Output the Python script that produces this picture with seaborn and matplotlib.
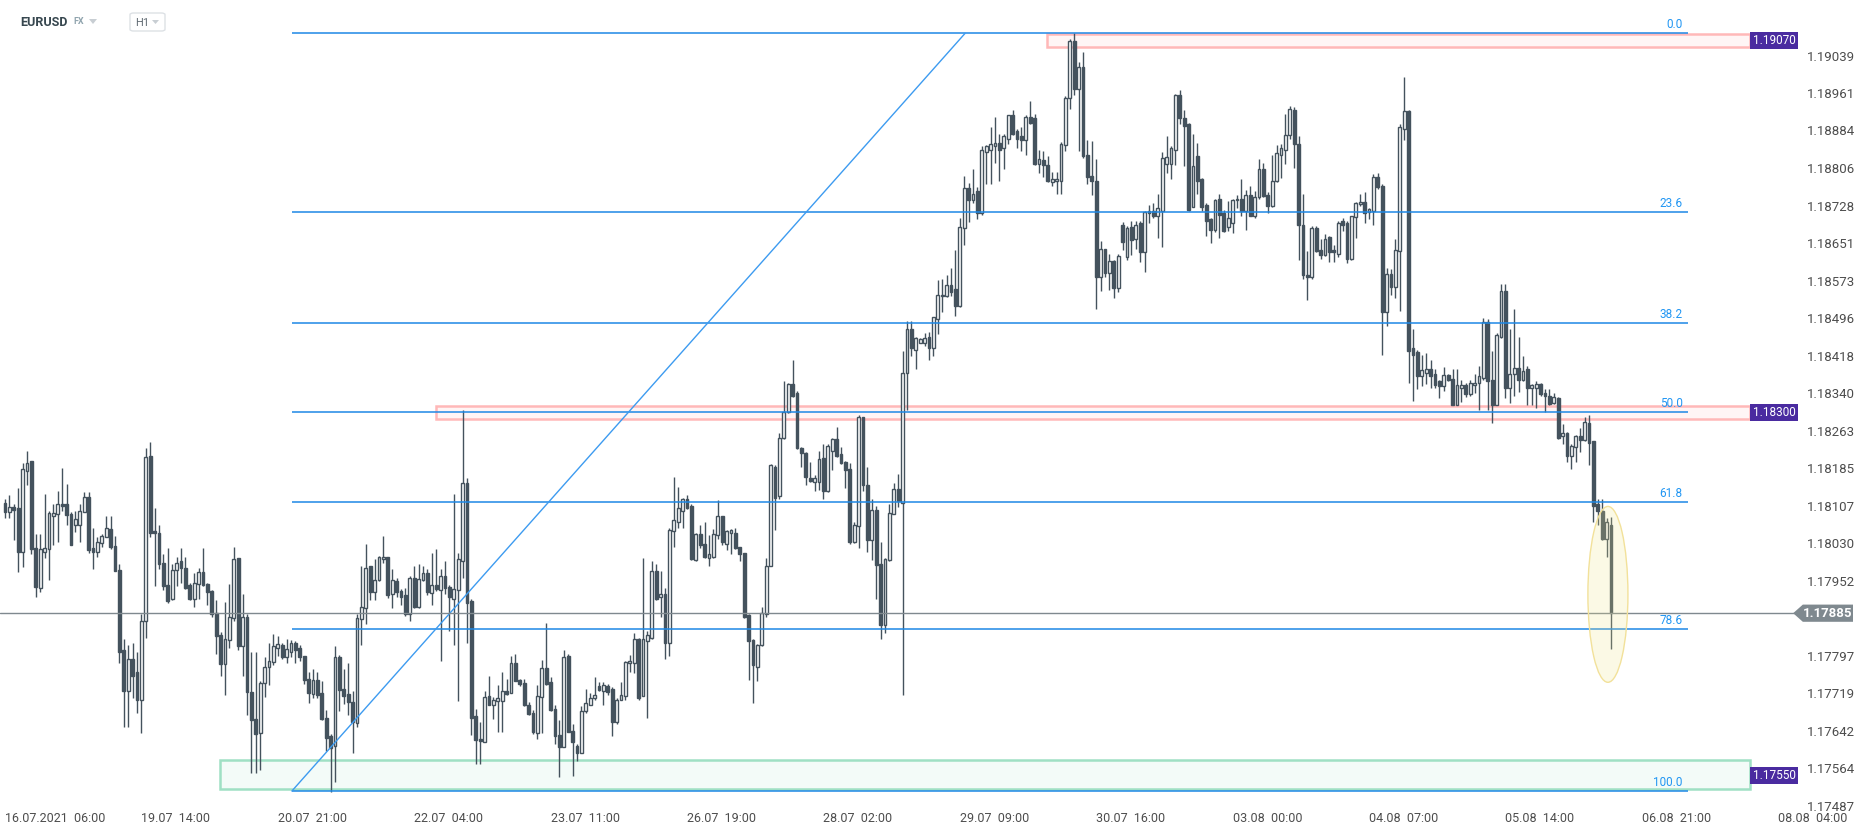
import numpy as np
import matplotlib.pyplot as plt
import seaborn as sns
from matplotlib.patches import Rectangle, Ellipse, Polygon, FancyBboxPatch

# EURUSD H1 candles (16.07.2021 06:00 -> 06.08.2021)
opens = [
    1.18114, 1.18095, 1.18104, 1.18102, 1.18012, 1.18180, 1.18199, 1.18019, 1.17938, 1.18012,
    1.18017, 1.18087, 1.18090, 1.18112, 1.18112, 1.18091, 1.18067, 1.18067, 1.18095, 1.18125,
    1.18019, 1.18012, 1.18030, 1.18042, 1.18059, 1.18025, 1.17975, 1.17809, 1.17724, 1.17791,
    1.17764, 1.17706, 1.17868, 1.18211, 1.18055, 1.18052, 1.17989, 1.17943, 1.17915, 1.17975,
    1.17992, 1.17979, 1.17943, 1.17915, 1.17945, 1.17971, 1.17945, 1.17931, 1.17885, 1.17839,
    1.17779, 1.17829, 1.17875, 1.17999, 1.17817, 1.17878, 1.17721, 1.17666, 1.17638, 1.17741,
    1.17774, 1.17784, 1.17814, 1.17819, 1.17794, 1.17804, 1.17824, 1.17812, 1.17797, 1.17749,
    1.17717, 1.17746, 1.17719, 1.17669, 1.17630, 1.17610, 1.17794, 1.17729, 1.17717, 1.17702,
    1.17657, 1.17873, 1.17895, 1.17982, 1.17928, 1.17953, 1.17997, 1.18002, 1.17925, 1.17951,
    1.17931, 1.17923, 1.17883, 1.17958, 1.17898, 1.17953, 1.17969, 1.17926, 1.17943, 1.17933,
    1.17963, 1.17940, 1.17915, 1.17933, 1.17992, 1.18155, 1.17911, 1.17672, 1.17625, 1.17618,
    1.17714, 1.17696, 1.17704, 1.17704, 1.17724, 1.17719, 1.17781, 1.17746, 1.17741, 1.17696,
    1.17679, 1.17638, 1.17712, 1.17772, 1.17742, 1.17686, 1.17632, 1.17608, 1.17797, 1.17642,
    1.17610, 1.17595, 1.17682, 1.17696, 1.17709, 1.17734, 1.17724, 1.17734, 1.17729, 1.17659,
    1.17706, 1.17714, 1.17781, 1.17781, 1.17831, 1.17714, 1.17827, 1.17834, 1.17972, 1.17918,
    1.17925, 1.17824, 1.18055, 1.18074, 1.18097, 1.18122, 1.18107, 1.17995, 1.18049, 1.18029,
    1.17999, 1.18002, 1.18047, 1.18087, 1.18029, 1.18052, 1.18052, 1.18021, 1.18009, 1.17881,
    1.17829, 1.17774, 1.17819, 1.17883, 1.17982, 1.18188, 1.18127, 1.18248, 1.18302, 1.18360,
    1.18340, 1.18226, 1.18216, 1.18164, 1.18156, 1.18157, 1.18206, 1.18137, 1.18221, 1.18246,
    1.18214, 1.18198, 1.18183, 1.18032, 1.18065, 1.18290, 1.18150, 1.18037, 1.18098, 1.17987,
    1.17861, 1.17995, 1.18090, 1.18142, 1.18114, 1.18383, 1.18473, 1.18430, 1.18445, 1.18445,
    1.18457, 1.18433, 1.18494, 1.18541, 1.18541, 1.18564, 1.18556, 1.18521, 1.18682, 1.18765,
    1.18741, 1.18758, 1.18713, 1.18840, 1.18844, 1.18852, 1.18859, 1.18847, 1.18867, 1.18917,
    1.18882, 1.18872, 1.18865, 1.18912, 1.18909, 1.18814, 1.18822, 1.18812, 1.18778, 1.18780,
    1.18780, 1.18854, 1.18952, 1.19069, 1.18969, 1.19016, 1.18834, 1.18790, 1.18780, 1.18581,
    1.18639, 1.18589, 1.18614, 1.18557, 1.18689, 1.18622, 1.18684, 1.18659, 1.18692, 1.18632,
    1.18718, 1.18718, 1.18706, 1.18718, 1.18814, 1.18814, 1.18844, 1.18957, 1.18909, 1.18897,
    1.18726, 1.18832, 1.18783, 1.18730, 1.18700, 1.18679, 1.18743, 1.18713, 1.18684, 1.18692,
    1.18740, 1.18743, 1.18718, 1.18750, 1.18708, 1.18746, 1.18804, 1.18750, 1.18728, 1.18780,
    1.18834, 1.18844, 1.18874, 1.18927, 1.18857, 1.18689, 1.18584, 1.18581, 1.18682, 1.18636,
    1.18626, 1.18664, 1.18636, 1.18629, 1.18696, 1.18692, 1.18619, 1.18705, 1.18731, 1.18736,
    1.18715, 1.18718, 1.18788, 1.18770, 1.18509, 1.18587, 1.18561, 1.18634, 1.18887, 1.18925,
    1.18433, 1.18425, 1.18375, 1.18382, 1.18390, 1.18380, 1.18365, 1.18355, 1.18378, 1.18370,
    1.18315, 1.18352, 1.18358, 1.18338, 1.18358, 1.18362, 1.18372, 1.18487, 1.18368, 1.18315,
    1.18457, 1.18552, 1.18352, 1.18380, 1.18392, 1.18368, 1.18390, 1.18352, 1.18352, 1.18360,
    1.18340, 1.18335, 1.18320, 1.18330, 1.18251, 1.18258, 1.18211, 1.18228, 1.18251, 1.18244,
    1.18278, 1.18241, 1.18110, 1.18097, 1.18039, 1.18067,
]
highs = [
    1.18122, 1.18130, 1.18110, 1.18144, 1.18196, 1.18221, 1.18199, 1.18049, 1.18049, 1.18132,
    1.18097, 1.18112, 1.18137, 1.18185, 1.18152, 1.18094, 1.18097, 1.18110, 1.18135, 1.18135,
    1.18062, 1.18042, 1.18049, 1.18087, 1.18087, 1.18045, 1.17987, 1.17831, 1.17819, 1.17824,
    1.17804, 1.17883, 1.18226, 1.18239, 1.18102, 1.18067, 1.18007, 1.18019, 1.17987, 1.18002,
    1.18019, 1.18002, 1.17948, 1.17969, 1.17979, 1.18019, 1.17948, 1.17933, 1.17913, 1.17846,
    1.17908, 1.17945, 1.18022, 1.17999, 1.17925, 1.17883, 1.17804, 1.17804, 1.17744, 1.17794,
    1.17824, 1.17841, 1.17837, 1.17824, 1.17831, 1.17829, 1.17827, 1.17819, 1.17797, 1.17764,
    1.17769, 1.17764, 1.17744, 1.17684, 1.17635, 1.17817, 1.17799, 1.17769, 1.17781, 1.17724,
    1.17883, 1.17982, 1.18029, 1.17982, 1.17997, 1.18004, 1.18045, 1.18002, 1.17977, 1.17958,
    1.17935, 1.17938, 1.17963, 1.17982, 1.17987, 1.17982, 1.17977, 1.18009, 1.18017, 1.17977,
    1.17992, 1.17943, 1.18132, 1.18009, 1.18305, 1.18164, 1.17915, 1.17686, 1.17659, 1.17724,
    1.17756, 1.17712, 1.17736, 1.17764, 1.17749, 1.17797, 1.17801, 1.17749, 1.17749, 1.17702,
    1.17684, 1.17736, 1.17789, 1.17865, 1.17752, 1.17696, 1.17664, 1.17809, 1.17801, 1.17656,
    1.17615, 1.17692, 1.17729, 1.17719, 1.17752, 1.17742, 1.17742, 1.17739, 1.17732, 1.17709,
    1.17742, 1.17787, 1.17799, 1.17844, 1.17834, 1.17999, 1.17849, 1.17992, 1.17987, 1.17972,
    1.17938, 1.18062, 1.18167, 1.18147, 1.18124, 1.18130, 1.18110, 1.18052, 1.18067, 1.18074,
    1.18047, 1.18059, 1.18119, 1.18087, 1.18057, 1.18059, 1.18062, 1.18022, 1.18009, 1.17883,
    1.17831, 1.17821, 1.17898, 1.17999, 1.18194, 1.18191, 1.18258, 1.18365, 1.18362, 1.18410,
    1.18345, 1.18228, 1.18218, 1.18198, 1.18172, 1.18221, 1.18236, 1.18236, 1.18248, 1.18271,
    1.18228, 1.18201, 1.18196, 1.18074, 1.18295, 1.18292, 1.18188, 1.18122, 1.18107, 1.18032,
    1.17999, 1.18112, 1.18154, 1.18174, 1.18427, 1.18490, 1.18490, 1.18457, 1.18455, 1.18465,
    1.18467, 1.18499, 1.18574, 1.18577, 1.18584, 1.18599, 1.18636, 1.18703, 1.18790, 1.18776,
    1.18804, 1.18768, 1.18852, 1.18854, 1.18892, 1.18912, 1.18877, 1.18877, 1.18917, 1.18927,
    1.18887, 1.18892, 1.18915, 1.18945, 1.18919, 1.18844, 1.18842, 1.18832, 1.18798, 1.18798,
    1.18860, 1.18955, 1.19073, 1.19085, 1.19026, 1.19046, 1.18864, 1.18862, 1.18824, 1.18656,
    1.18639, 1.18629, 1.18616, 1.18629, 1.18694, 1.18686, 1.18696, 1.18696, 1.18696, 1.18718,
    1.18730, 1.18733, 1.18753, 1.18840, 1.18872, 1.18852, 1.18959, 1.18967, 1.18927, 1.18899,
    1.18877, 1.18859, 1.18786, 1.18733, 1.18703, 1.18743, 1.18753, 1.18720, 1.18738, 1.18743,
    1.18750, 1.18783, 1.18760, 1.18770, 1.18758, 1.18825, 1.18817, 1.18756, 1.18834, 1.18854,
    1.18857, 1.18919, 1.18935, 1.18932, 1.18872, 1.18753, 1.18634, 1.18686, 1.18686, 1.18659,
    1.18669, 1.18666, 1.18646, 1.18696, 1.18703, 1.18696, 1.18708, 1.18736, 1.18753, 1.18756,
    1.18723, 1.18793, 1.18795, 1.18773, 1.18599, 1.18597, 1.18659, 1.18897, 1.18995, 1.18927,
    1.18473, 1.18430, 1.18420, 1.18423, 1.18410, 1.18390, 1.18368, 1.18395, 1.18380, 1.18390,
    1.18390, 1.18368, 1.18362, 1.18368, 1.18380, 1.18397, 1.18495, 1.18493, 1.18427, 1.18465,
    1.18567, 1.18567, 1.18473, 1.18514, 1.18457, 1.18417, 1.18397, 1.18360, 1.18365, 1.18362,
    1.18350, 1.18350, 1.18340, 1.18332, 1.18276, 1.18261, 1.18236, 1.18254, 1.18268, 1.18292,
    1.18295, 1.18241, 1.18122, 1.18122, 1.18082, 1.18084,
]
lows = [
    1.18082, 1.18082, 1.18037, 1.17970, 1.17980, 1.18150, 1.18007, 1.17918, 1.17928, 1.17999,
    1.17953, 1.18027, 1.18032, 1.18097, 1.18067, 1.18027, 1.18054, 1.18032, 1.18094, 1.18009,
    1.17977, 1.18002, 1.18022, 1.18042, 1.18017, 1.17972, 1.17781, 1.17650, 1.17650, 1.17709,
    1.17679, 1.17637, 1.17834, 1.18042, 1.17941, 1.17977, 1.17933, 1.17906, 1.17913, 1.17941,
    1.17948, 1.17935, 1.17913, 1.17898, 1.17915, 1.17941, 1.17901, 1.17878, 1.17801, 1.17754,
    1.17716, 1.17814, 1.17868, 1.17809, 1.17754, 1.17674, 1.17555, 1.17555, 1.17560, 1.17712,
    1.17736, 1.17777, 1.17797, 1.17791, 1.17781, 1.17794, 1.17781, 1.17787, 1.17739, 1.17699,
    1.17709, 1.17709, 1.17664, 1.17600, 1.17516, 1.17536, 1.17682, 1.17697, 1.17674, 1.17595,
    1.17650, 1.17819, 1.17863, 1.17913, 1.17913, 1.17951, 1.17989, 1.17916, 1.17895, 1.17918,
    1.17901, 1.17880, 1.17868, 1.17895, 1.17895, 1.17951, 1.17923, 1.17903, 1.17931, 1.17787,
    1.17925, 1.17849, 1.17819, 1.17704, 1.17958, 1.17824, 1.17632, 1.17572, 1.17572, 1.17618,
    1.17694, 1.17666, 1.17640, 1.17640, 1.17716, 1.17719, 1.17744, 1.17734, 1.17692, 1.17674,
    1.17635, 1.17625, 1.17638, 1.17736, 1.17682, 1.17615, 1.17545, 1.17608, 1.17640, 1.17548,
    1.17580, 1.17595, 1.17679, 1.17694, 1.17706, 1.17724, 1.17696, 1.17716, 1.17630, 1.17656,
    1.17706, 1.17706, 1.17764, 1.17761, 1.17706, 1.17714, 1.17669, 1.17831, 1.17913, 1.17878,
    1.17791, 1.17797, 1.18022, 1.18062, 1.18062, 1.18100, 1.17995, 1.17992, 1.18019, 1.17999,
    1.17982, 1.17999, 1.18039, 1.18027, 1.18015, 1.18007, 1.18017, 1.17992, 1.17875, 1.17746,
    1.17699, 1.17744, 1.17817, 1.17878, 1.17982, 1.18057, 1.18122, 1.18246, 1.18300, 1.18332,
    1.18224, 1.18188, 1.18150, 1.18157, 1.18137, 1.18140, 1.18122, 1.18136, 1.18181, 1.18208,
    1.18194, 1.18144, 1.18029, 1.18030, 1.18019, 1.18137, 1.18012, 1.17995, 1.17915, 1.17831,
    1.17844, 1.17992, 1.18090, 1.18104, 1.17716, 1.18305, 1.18417, 1.18390, 1.18445, 1.18437,
    1.18410, 1.18417, 1.18463, 1.18509, 1.18539, 1.18541, 1.18501, 1.18519, 1.18646, 1.18694,
    1.18733, 1.18700, 1.18710, 1.18773, 1.18773, 1.18817, 1.18780, 1.18804, 1.18857, 1.18874,
    1.18847, 1.18842, 1.18834, 1.18897, 1.18812, 1.18797, 1.18788, 1.18778, 1.18770, 1.18753,
    1.18753, 1.18842, 1.18929, 1.18957, 1.18842, 1.18827, 1.18773, 1.18750, 1.18514, 1.18551,
    1.18581, 1.18554, 1.18537, 1.18549, 1.18636, 1.18616, 1.18626, 1.18639, 1.18612, 1.18591,
    1.18692, 1.18703, 1.18662, 1.18642, 1.18797, 1.18783, 1.18812, 1.18897, 1.18810, 1.18718,
    1.18725, 1.18753, 1.18718, 1.18666, 1.18652, 1.18674, 1.18662, 1.18674, 1.18676, 1.18672,
    1.18723, 1.18706, 1.18679, 1.18706, 1.18703, 1.18743, 1.18746, 1.18713, 1.18726, 1.18778,
    1.18786, 1.18814, 1.18867, 1.18807, 1.18616, 1.18577, 1.18534, 1.18577, 1.18632, 1.18619,
    1.18624, 1.18612, 1.18612, 1.18622, 1.18676, 1.18609, 1.18616, 1.18662, 1.18728, 1.18692,
    1.18700, 1.18689, 1.18763, 1.18420, 1.18480, 1.18544, 1.18537, 1.18511, 1.18864, 1.18362,
    1.18325, 1.18348, 1.18355, 1.18360, 1.18352, 1.18352, 1.18330, 1.18345, 1.18365, 1.18315,
    1.18315, 1.18322, 1.18332, 1.18335, 1.18340, 1.18305, 1.18368, 1.18305, 1.18278, 1.18315,
    1.18455, 1.18330, 1.18320, 1.18335, 1.18342, 1.18365, 1.18315, 1.18315, 1.18310, 1.18335,
    1.18302, 1.18315, 1.18318, 1.18246, 1.18236, 1.18198, 1.18184, 1.18198, 1.18218, 1.18241,
    1.18191, 1.18074, 1.18067, 1.18037, 1.18002, 1.17811,
]
closes = [
    1.18094, 1.18104, 1.18099, 1.18012, 1.18183, 1.18196, 1.18017, 1.17940, 1.18017, 1.18019,
    1.18092, 1.18092, 1.18110, 1.18107, 1.18089, 1.18027, 1.18080, 1.18097, 1.18125, 1.18015,
    1.18012, 1.18032, 1.18045, 1.18062, 1.18022, 1.17972, 1.17804, 1.17724, 1.17791, 1.17754,
    1.17706, 1.17868, 1.18208, 1.18052, 1.18050, 1.17987, 1.17941, 1.17911, 1.17975, 1.17989,
    1.17979, 1.17938, 1.17915, 1.17948, 1.17971, 1.17943, 1.17928, 1.17883, 1.17837, 1.17779,
    1.17831, 1.17878, 1.17997, 1.17817, 1.17878, 1.17721, 1.17664, 1.17635, 1.17741, 1.17774,
    1.17787, 1.17817, 1.17822, 1.17794, 1.17811, 1.17824, 1.17809, 1.17794, 1.17746, 1.17719,
    1.17746, 1.17716, 1.17666, 1.17627, 1.17605, 1.17794, 1.17726, 1.17714, 1.17702, 1.17659,
    1.17875, 1.17898, 1.17979, 1.17928, 1.17953, 1.18002, 1.18002, 1.17923, 1.17953, 1.17928,
    1.17918, 1.17883, 1.17958, 1.17898, 1.17955, 1.17969, 1.17928, 1.17943, 1.17935, 1.17963,
    1.17938, 1.17918, 1.17935, 1.17997, 1.18155, 1.17906, 1.17669, 1.17622, 1.17620, 1.17712,
    1.17696, 1.17706, 1.17709, 1.17724, 1.17717, 1.17781, 1.17744, 1.17739, 1.17694, 1.17676,
    1.17640, 1.17714, 1.17772, 1.17739, 1.17684, 1.17630, 1.17608, 1.17794, 1.17640, 1.17618,
    1.17595, 1.17682, 1.17699, 1.17709, 1.17716, 1.17727, 1.17736, 1.17722, 1.17659, 1.17706,
    1.17716, 1.17784, 1.17786, 1.17831, 1.17709, 1.17831, 1.17839, 1.17972, 1.17915, 1.17925,
    1.17824, 1.18057, 1.18077, 1.18102, 1.18122, 1.18102, 1.17997, 1.18049, 1.18027, 1.18002,
    1.18007, 1.18049, 1.18087, 1.18032, 1.18055, 1.18057, 1.18019, 1.18007, 1.17878, 1.17827,
    1.17777, 1.17819, 1.17885, 1.17982, 1.18191, 1.18124, 1.18248, 1.18302, 1.18360, 1.18335,
    1.18226, 1.18216, 1.18167, 1.18159, 1.18164, 1.18204, 1.18137, 1.18231, 1.18246, 1.18211,
    1.18196, 1.18181, 1.18032, 1.18067, 1.18290, 1.18150, 1.18037, 1.18098, 1.17985, 1.17861,
    1.17997, 1.18092, 1.18142, 1.18117, 1.18383, 1.18473, 1.18433, 1.18455, 1.18453, 1.18455,
    1.18433, 1.18497, 1.18544, 1.18544, 1.18564, 1.18549, 1.18521, 1.18684, 1.18765, 1.18741,
    1.18753, 1.18713, 1.18844, 1.18852, 1.18857, 1.18859, 1.18844, 1.18872, 1.18917, 1.18877,
    1.18867, 1.18864, 1.18912, 1.18900, 1.18814, 1.18824, 1.18812, 1.18780, 1.18783, 1.18783,
    1.18857, 1.18952, 1.19069, 1.18969, 1.19015, 1.18832, 1.18788, 1.18780, 1.18581, 1.18639,
    1.18589, 1.18614, 1.18559, 1.18624, 1.18654, 1.18682, 1.18657, 1.18689, 1.18632, 1.18716,
    1.18713, 1.18706, 1.18723, 1.18827, 1.18830, 1.18847, 1.18957, 1.18909, 1.18894, 1.18720,
    1.18810, 1.18780, 1.18726, 1.18696, 1.18679, 1.18740, 1.18710, 1.18676, 1.18703, 1.18740,
    1.18743, 1.18718, 1.18750, 1.18708, 1.18746, 1.18804, 1.18748, 1.18728, 1.18780, 1.18837,
    1.18847, 1.18874, 1.18929, 1.18857, 1.18689, 1.18584, 1.18581, 1.18682, 1.18634, 1.18626,
    1.18659, 1.18632, 1.18632, 1.18692, 1.18689, 1.18619, 1.18706, 1.18733, 1.18735, 1.18713,
    1.18721, 1.18788, 1.18766, 1.18509, 1.18587, 1.18561, 1.18636, 1.18892, 1.18925, 1.18427,
    1.18420, 1.18375, 1.18388, 1.18390, 1.18375, 1.18358, 1.18355, 1.18378, 1.18368, 1.18315,
    1.18358, 1.18358, 1.18338, 1.18362, 1.18362, 1.18375, 1.18487, 1.18365, 1.18315, 1.18460,
    1.18552, 1.18352, 1.18380, 1.18392, 1.18368, 1.18387, 1.18352, 1.18358, 1.18360, 1.18338,
    1.18335, 1.18318, 1.18332, 1.18248, 1.18258, 1.18211, 1.18231, 1.18251, 1.18244, 1.18280,
    1.18238, 1.18107, 1.18097, 1.18039, 1.18074, 1.17885,
]

# axis labels
date_labels = ["16.07.2021  06:00", "19.07  14:00", "20.07  21:00", "22.07  04:00",
               "23.07  11:00", "26.07  19:00", "28.07  02:00", "29.07  09:00",
               "30.07  16:00", "03.08  00:00", "04.08  07:00", "05.08  14:00",
               "06.08  21:00", "08.08  04:00"]
price_ticks = [1.19039, 1.18961, 1.18884, 1.18806, 1.18728, 1.18651, 1.18573,
               1.18496, 1.18418, 1.18340, 1.18263, 1.18185, 1.18107, 1.18030,
               1.17952, 1.17797, 1.17719, 1.17642, 1.17564, 1.17487]

# drawing objects
fib_high, fib_low = 1.19085, 1.17517
fib_ratios = [0.0, 23.6, 38.2, 50.0, 61.8, 78.6, 100.0]
zone_prices = [1.19070, 1.18300, 1.17550]
last_price = 1.17885

DARK = "#44525d"
BLUE = "#1e88e5"
PURPLE = "#4a2ba0"

sns.set_theme(style="white")
plt.rcParams["font.family"] = ["Roboto", "DejaVu Sans"]

W, H = 1866, 832
fig = plt.figure(figsize=(W / 100, H / 100), dpi=100)
ax = fig.add_axes([0, 1 - 806 / H, 1800 / W, 806 / H])
ax.set_facecolor("white")

# candle index -> pixel: 5 + 4.4 * i
ax.set_xlim(-5 / 4.4, (1800 - 5) / 4.4)
ax.set_ylim(1.17486, 1.19154)

o, h, l, c = (np.array(v) for v in (opens, highs, lows, closes))
x = np.arange(len(c))
up = c >= o
ax.vlines(x, np.minimum(l, np.minimum(o, c)), np.maximum(h, np.maximum(o, c)),
          color=DARK, lw=1, zorder=2)
bottom = np.minimum(o, c)
height = np.maximum(np.abs(c - o), 0.00003)
ax.bar(x[up], height[up], bottom=bottom[up], width=0.6, color="white",
       edgecolor=DARK, linewidth=1, zorder=3)
ax.bar(x[~up], height[~up], bottom=bottom[~up], width=0.6, color=DARK,
       edgecolor=DARK, linewidth=1, zorder=3)

# zones (red / red / green)
x_end = (1750 - 5) / 4.4
zones = [(236.8, 1.19056, 1.19083, "#ffb8b8", "#fff5f5"),
         (98.0, 1.18287, 1.18313, "#ffb8b8", "#fff5f5"),
         (48.9, 1.17521, 1.17581, "#9fe0c4", "#f3fbf8")]
for x0, y0, y1, ec, fc in zones:
    ax.add_patch(Rectangle((x0, y0), x_end - x0, y1 - y0, facecolor=fc,
                           edgecolor=ec, lw=1.8, zorder=1))

# fibonacci retracement
fib_x0, fib_x1 = 65.2, 382.5
for r in fib_ratios:
    p = fib_high - r / 100 * (fib_high - fib_low)
    ax.hlines(p, fib_x0, fib_x1, color=BLUE, lw=1.1, zorder=4)
    ax.annotate(f"{r:.1f}", (fib_x1 - 1.2, p), xytext=(0, 1.5),
                textcoords="offset points", ha="right", va="bottom",
                fontsize=8.5, color="#2196f3", zorder=5)
ax.plot([fib_x0, 218.2], [fib_low, fib_high], color="#3d9bf0", lw=1, zorder=4)

# current price line
ax.axhline(last_price, color="#7f898f", lw=1, zorder=4)

# highlight ellipse on the last candles
ax.add_patch(Ellipse((364.3, 1.17924), 9.1, 0.00364, facecolor="#f0e68c",
                     alpha=0.22, edgecolor="none", zorder=6))
ax.add_patch(Ellipse((364.3, 1.17924), 9.1, 0.00364, facecolor="none",
                     edgecolor="#f2e19a", lw=1, zorder=6))

# purple price labels of the zones
for p in zone_prices:
    ax.add_patch(Rectangle((x_end, p - 0.000175), 11.0, 0.00035, facecolor=PURPLE,
                           edgecolor="none", zorder=7, clip_on=False))
    ax.text(x_end + 5.5, p, f"{p:.5f}", color="white", fontsize=8.5,
            ha="center", va="center", zorder=8, clip_on=False)

# grey last-price tag
tag = Polygon([(406.4, last_price), (408.6, last_price + 0.000178),
               (420.0, last_price + 0.000178), (420.0, last_price - 0.000178),
               (408.6, last_price - 0.000178)], closed=True,
              facecolor="#7f898f", edgecolor="none", zorder=7, clip_on=False)
ax.add_patch(tag)
ax.text(414.3, last_price, f"{last_price:.5f}", color="white", fontsize=9.5,
        fontweight="bold", ha="center", va="center", zorder=8, clip_on=False)

# axes ticks
ax.yaxis.tick_right()
ax.set_yticks(price_ticks)
ax.set_yticklabels([f"{p:.5f}" for p in price_ticks])
ax.set_xticks(np.arange(len(date_labels)) * 31)
ax.set_xticklabels(date_labels, ha="left")
ax.tick_params(axis="y", length=0, pad=5, labelsize=9.5, labelcolor="#4d4d4d")
ax.tick_params(axis="x", length=0, pad=4, labelsize=9, labelcolor="#4d4d4d")
sns.despine(ax=ax, left=True, bottom=True, top=True, right=True)
ax.grid(False)

# header
def fx(px):
    return px / W

def fy(py):
    return 1 - py / H

fig.text(fx(20), fy(22), "EURUSD", fontsize=9, fontweight="bold",
         color="#37474f", va="center", ha="left")
fig.text(fx(73), fy(22), "FX", fontsize=6.5, fontweight="bold",
         color="#90a4ae", va="center", ha="left")
fig.patches.append(Polygon([(fx(89), fy(19)), (fx(97), fy(19)), (fx(93), fy(24))],
                           closed=True, transform=fig.transFigure,
                           facecolor="#c8ced3", edgecolor="none"))
fig.patches.append(FancyBboxPatch((fx(130), fy(31)), fx(35), 18 / H,
                                  boxstyle="round,pad=0,rounding_size=0.002",
                                  transform=fig.transFigure, facecolor="white",
                                  edgecolor="#dde1e5", lw=1))
fig.text(fx(135), fy(22.5), "H1", fontsize=8, color="#616b73", va="center", ha="left")
fig.patches.append(Polygon([(fx(152), fy(20)), (fx(159), fy(20)), (fx(155.5), fy(24))],
                           closed=True, transform=fig.transFigure,
                           facecolor="#c8ced3", edgecolor="none"))

fig.savefig("out.png", dpi=100)
